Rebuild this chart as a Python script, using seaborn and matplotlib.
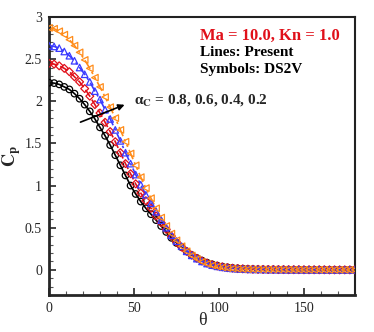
import numpy as np
import pandas as pd
import matplotlib
matplotlib.use("Agg")
import matplotlib.pyplot as plt
import seaborn as sns
from matplotlib.ticker import MultipleLocator, FuncFormatter

theta = list(range(0, 181, 3))

tail = [0.006, 0.005, 0.004, 0.004, 0.003, 0.003, 0.002, 0.002, 0.002, 0.001,
        0.001, 0.001, 0.001, 0.001, 0.0, 0.0, 0.0, 0.0, 0.0, 0.0]

cp_08 = [2.22, 2.215, 2.20, 2.17, 2.14, 2.09, 2.03, 1.96, 1.88, 1.79, 1.69, 1.59,
         1.48, 1.36, 1.24, 1.12, 1.00, 0.90, 0.81, 0.73, 0.66, 0.59, 0.52, 0.45,
         0.38, 0.32, 0.27, 0.22, 0.175, 0.14, 0.11, 0.085, 0.065, 0.05, 0.038,
         0.029, 0.022, 0.017, 0.013, 0.010, 0.008] + tail
cp_06 = [2.45, 2.44, 2.42, 2.39, 2.35, 2.29, 2.23, 2.15, 2.06, 1.96, 1.86, 1.75,
         1.64, 1.52, 1.39, 1.26, 1.14, 1.02, 0.91, 0.82, 0.73, 0.64, 0.56, 0.48,
         0.40, 0.33, 0.27, 0.22, 0.174, 0.137, 0.105, 0.08, 0.06, 0.046, 0.035,
         0.026, 0.020, 0.015, 0.012, 0.009, 0.007] + tail
cp_04 = [2.66, 2.65, 2.63, 2.59, 2.54, 2.48, 2.40, 2.32, 2.23, 2.12, 2.02, 1.90,
         1.79, 1.66, 1.53, 1.39, 1.26, 1.13, 1.01, 0.89, 0.79, 0.69, 0.59, 0.50,
         0.41, 0.34, 0.28, 0.22, 0.172, 0.133, 0.10, 0.075, 0.056, 0.042, 0.031,
         0.023, 0.017, 0.013, 0.010, 0.007, 0.006] + tail
cp_02 = [2.87, 2.86, 2.83, 2.79, 2.73, 2.66, 2.58, 2.49, 2.39, 2.28, 2.17, 2.05,
         1.93, 1.80, 1.66, 1.52, 1.38, 1.24, 1.10, 0.97, 0.85, 0.73, 0.62, 0.52,
         0.43, 0.35, 0.28, 0.22, 0.17, 0.13, 0.095, 0.07, 0.052, 0.038, 0.028,
         0.02, 0.015, 0.011, 0.008, 0.006, 0.005] + tail

series = [
    ("0.8", cp_08, "black", "o", (None, None)),
    ("0.6", cp_06, "#e0101a", "D", (5, 2)),
    ("0.4", cp_04, "#3a3aff", "^", (6, 2, 1.5, 2)),
    ("0.2", cp_02, "#ff8c1a", "<", (6, 2, 1.5, 2, 1.5, 2)),
]

sns.set_style("ticks")
plt.rcParams["font.family"] = ["Liberation Serif", "DejaVu Serif"]
plt.rcParams["mathtext.fontset"] = "stix"

fig = plt.figure(figsize=(3.74, 3.32), dpi=100)
ax = fig.add_axes([0.131, 0.111, 0.818, 0.838])

for name, vals, col, mk, dash in series:
    df = pd.DataFrame({"theta": theta, "cp": vals})
    sns.lineplot(data=df, x="theta", y="cp", ax=ax, color=col, lw=1.2,
                 legend=False)
    line = ax.lines[-1]
    if dash[0] is not None:
        line.set_dashes(dash)
    msz = 22 if mk != "D" else 16
    sns.scatterplot(data=df, x="theta", y="cp", ax=ax, marker=mk, s=msz,
                    facecolor="none", edgecolor=col, linewidth=0.9,
                    legend=False, zorder=3)

ax.set_xlim(0, 180)
ax.set_ylim(-0.3, 3)
ax.xaxis.set_major_locator(MultipleLocator(50))
ax.xaxis.set_minor_locator(MultipleLocator(10))
ax.yaxis.set_major_locator(MultipleLocator(0.5))
ax.yaxis.set_minor_locator(MultipleLocator(0.1))
ax.yaxis.set_major_formatter(FuncFormatter(lambda v, p: "%g" % round(v, 2)))
ax.tick_params(which="both", direction="in", top=False, right=False,
               labelsize=10, pad=5)
ax.tick_params(which="major", length=5, width=1.2)
ax.tick_params(which="minor", length=3, width=0.8, color="#555555")
for s in ["left", "bottom"]:
    ax.spines[s].set_linewidth(2.0)
for s in ["top", "right"]:
    ax.spines[s].set_linewidth(1.5)
    ax.spines[s].set_color("#222222")

ax.set_xlabel("θ", fontsize=13)
ax.set_ylabel(r"$\mathbf{C_p}$", fontsize=13)
ax.xaxis.set_label_coords(0.5, -0.062)
ax.yaxis.set_label_coords(-0.085, 0.5)

ax.text(0.495, 0.962, "Ma = 10.0, Kn = 1.0", transform=ax.transAxes,
        color="#e0101a", fontsize=12, fontweight="bold", va="top", ha="left")
ax.text(0.495, 0.895, "Lines: Present", transform=ax.transAxes,
        color="black", fontsize=11, fontweight="bold", va="top", ha="left")
ax.text(0.495, 0.835, "Symbols: DS2V", transform=ax.transAxes,
        color="black", fontsize=11, fontweight="bold", va="top", ha="left")

ax.annotate("", xy=(46, 1.97), xytext=(17, 1.74),
            arrowprops=dict(arrowstyle="-|>", color="black", lw=1.2,
                            mutation_scale=9))
ax.text(50, 2.01, "α$_\\mathbf{C}$ = 0.8, 0.6, 0.4, 0.2", fontsize=11,
        fontweight="bold", va="center", ha="left")

fig.savefig("out.png", dpi=100)
